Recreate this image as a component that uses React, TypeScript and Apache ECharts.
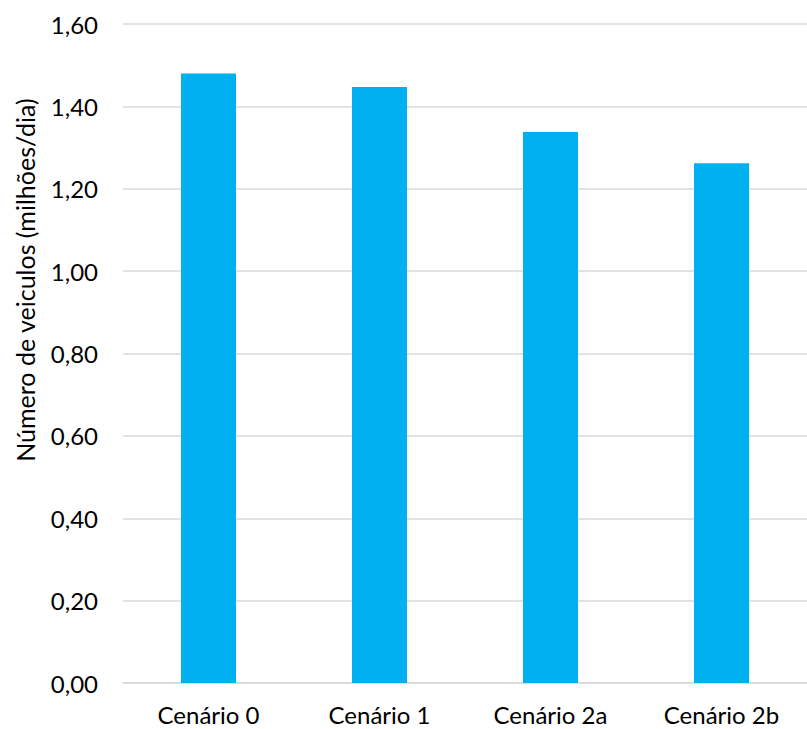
import React, { useEffect, useRef } from "react";
import * as echarts from "echarts";

const categories = ["Cenário 0", "Cenário 1", "Cenário 2a", "Cenário 2b"];
const values = [1.48, 1.447, 1.338, 1.262];
const yAxisName = "Número de veiculos (milhões/dia)";

export default function App() {
  const ref = useRef<HTMLDivElement>(null);
  useEffect(() => {
    if (!ref.current) return;
    const chart = echarts.init(ref.current, null, { renderer: "svg" });
    const font = "Lato, 'Open Sans', sans-serif";
    chart.setOption({
      animation: false,
      grid: { left: 123, right: -5, top: 24, bottom: 46, containLabel: false },
      graphic: [
        {
          type: "text",
          x: 25,
          y: 280,
          rotation: Math.PI / 2,
          style: {
            text: yAxisName,
            fill: "#000",
            font: `25px ${font}`,
            align: "center",
            verticalAlign: "middle",
          },
        },
      ],
      xAxis: {
        type: "category",
        data: categories,
        axisLine: { lineStyle: { color: "#d9d9d9", width: 1.5 } },
        axisTick: { show: false },
        axisLabel: { color: "#000", fontFamily: font, fontSize: 24, margin: 19 },
      },
      yAxis: {
        type: "value",
        min: 0,
        max: 1.6,
        interval: 0.2,
        axisLine: { show: false },
        axisTick: { show: false },
        splitLine: { lineStyle: { color: "#d9d9d9", width: 1.5 } },
        axisLabel: {
          color: "#000",
          fontFamily: font,
          fontSize: 24,
          margin: 25,
          formatter: (v: number) => v.toFixed(2).replace(".", ","),
        },
      },
      series: [
        {
          type: "bar",
          data: values,
          barWidth: 55,
          itemStyle: { color: "#00b0f0" },
        },
      ],
    });
    return () => chart.dispose();
  }, []);
  return (
    <div
      ref={ref}
      style={{ position: "absolute", left: 0, top: 0, width: 807, height: 729, background: "#fff" }}
    />
  );
}
